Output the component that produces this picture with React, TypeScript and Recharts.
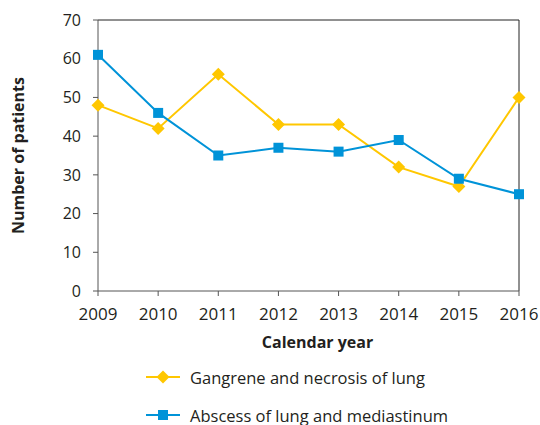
import { LineChart, Line, XAxis, YAxis, Legend, ReferenceLine, Label } from "recharts";

const YEARS = ["2009", "2010", "2011", "2012", "2013", "2014", "2015", "2016"];
const GANGRENE = [48, 42, 56, 43, 43, 32, 27, 50];
const ABSCESS = [61, 46, 35, 37, 36, 39, 29, 25];
const Y_TICKS = [0, 10, 20, 30, 40, 50, 60, 70];

const YELLOW = "#ffc700";
const BLUE = "#0093d8";
const TEXT = "#231f20";
const FONT = "'Open Sans', 'Noto Sans', sans-serif";

const data = YEARS.map((year, i) => ({
  year,
  gangrene: GANGRENE[i],
  abscess: ABSCESS[i],
}));

function Diamond({ cx, cy, r = 6.5, color }: { cx: number; cy: number; r?: number; color: string }) {
  return (
    <polygon
      points={`${cx},${cy - r} ${cx + r},${cy} ${cx},${cy + r} ${cx - r},${cy}`}
      fill={color}
    />
  );
}

function Square({ cx, cy, s = 10, color }: { cx: number; cy: number; s?: number; color: string }) {
  return <rect x={cx - s / 2} y={cy - s / 2} width={s} height={s} fill={color} />;
}

const SERIES = [
  { key: "gangrene", name: "Gangrene and necrosis of lung", color: YELLOW, shape: "diamond" },
  { key: "abscess", name: "Abscess of lung and mediastinum", color: BLUE, shape: "square" },
];

function ChartLegend() {
  return (
    <div style={{ fontFamily: FONT, fontSize: 16.5, color: TEXT }}>
      {SERIES.map((s) => (
        <div
          key={s.key}
          style={{ height: 38, display: "flex", alignItems: "center", paddingLeft: 146 }}
        >
          <svg width={34} height={16} style={{ display: "block" }}>
            <line x1={0} y1={8} x2={34} y2={8} stroke={s.color} strokeWidth={2} />
            {s.shape === "diamond" ? (
              <Diamond cx={17} cy={8} color={s.color} />
            ) : (
              <Square cx={17} cy={8} color={s.color} />
            )}
          </svg>
          <span style={{ marginLeft: 10 }}>{s.name}</span>
        </div>
      ))}
    </div>
  );
}

export default function App() {
  return (
    <div style={{ position: "absolute", left: 0, top: 0, width: 540, height: 425, background: "#fff" }}>
      <LineChart
        width={540}
        height={425}
        data={data}
        margin={{ top: 20, right: 21, left: 0, bottom: 74 }}
        style={{ fontFamily: FONT }}
      >
        <XAxis
          dataKey="year"
          height={60}
          tick={{ fill: TEXT, fontSize: 17 }}
          tickSize={5}
          tickMargin={12}
          axisLine={{ stroke: "#555" }}
          tickLine={{ stroke: "#555" }}
          interval={0}
        >
          <Label
            value="Calendar year"
            position="insideBottom"
            offset={3}
            dx={9}
            style={{ fill: TEXT, fontSize: 16, fontWeight: 700 }}
          />
        </XAxis>
        <YAxis
          width={98}
          domain={[0, 70]}
          ticks={Y_TICKS}
          tick={{ fill: TEXT, fontSize: 16 }}
          tickSize={5}
          tickMargin={12}
          axisLine={{ stroke: "#555" }}
          tickLine={{ stroke: "#555" }}
          interval={0}
        >
          <Label
            value="Number of patients"
            angle={-90}
            position="insideLeft"
            offset={18}
            style={{ fill: TEXT, fontSize: 16, fontWeight: 700, textAnchor: "middle" }}
          />
        </YAxis>
        <ReferenceLine y={70} stroke="#222" strokeWidth={1} />
        <ReferenceLine x="2016" stroke="#222" strokeWidth={1} />
        <Line
          dataKey="gangrene"
          name="Gangrene and necrosis of lung"
          stroke={YELLOW}
          strokeWidth={2}
          isAnimationActive={false}
          dot={(p: any) => <Diamond key={`g${p.index}`} cx={p.cx} cy={p.cy} color={YELLOW} />}
          activeDot={false}
        />
        <Line
          dataKey="abscess"
          name="Abscess of lung and mediastinum"
          stroke={BLUE}
          strokeWidth={2}
          isAnimationActive={false}
          dot={(p: any) => <Square key={`a${p.index}`} cx={p.cx} cy={p.cy} color={BLUE} />}
          activeDot={false}
        />
        <Legend
          layout="vertical"
          align="center"
          verticalAlign="middle"
          content={() => <ChartLegend />}
          wrapperStyle={{ top: 358, left: 0, width: 540 }}
        />
      </LineChart>
    </div>
  );
}
